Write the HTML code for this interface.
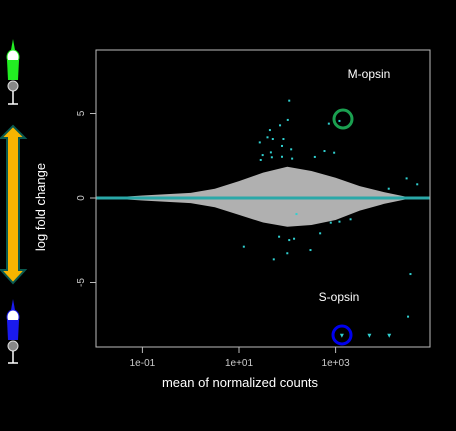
<!DOCTYPE html>
<html><head><meta charset="utf-8"><style>
html,body{margin:0;padding:0;background:#000;}
svg{display:block;font-family:"Liberation Sans",sans-serif;}
</style></head><body>
<svg width="456" height="431" viewBox="0 0 456 431">
<rect width="456" height="431" fill="#000"/>
<g id="icons">
  <g>
    <path d="M13 39 L15 50 L11 50 Z" fill="#22ee22"/>
    <ellipse cx="13" cy="57" rx="6" ry="7" fill="#fff" stroke="#22ee22" stroke-width="1"/>
    <path d="M7 60 L19 60 L18 80 L8 80 Z" fill="#22ee22"/>
    <circle cx="13" cy="86" r="5" fill="#888" stroke="#ddd" stroke-width="1"/>
    <line x1="13" y1="91" x2="13" y2="104" stroke="#fff" stroke-width="1.5"/>
    <line x1="8" y1="104" x2="18" y2="104" stroke="#fff" stroke-width="1.5"/>
  </g>
  <g>
    <path d="M13 126 L25 138 L19 138 L19 270 L25 270 L13 283 L1 270 L7 270 L7 138 L1 138 Z" fill="#f7b500" stroke="#0a5a50" stroke-width="2"/>
  </g>
  <g>
    <path d="M13 299 L15 310 L11 310 Z" fill="#1a1aee"/>
    <ellipse cx="13" cy="317" rx="6" ry="7" fill="#fff" stroke="#1a1aee" stroke-width="1"/>
    <path d="M7 320 L19 320 L18 340 L8 340 Z" fill="#1a1aee"/>
    <circle cx="13" cy="346" r="5" fill="#888" stroke="#ddd" stroke-width="1"/>
    <line x1="13" y1="351" x2="13" y2="363" stroke="#fff" stroke-width="1.5"/>
    <line x1="8" y1="363" x2="18" y2="363" stroke="#fff" stroke-width="1.5"/>
  </g>
</g>
<text x="45" y="207" fill="#fff" font-size="13" text-anchor="middle" transform="rotate(-90 45 207)">log fold change</text>
<text x="240" y="387" fill="#fff" font-size="13" text-anchor="middle">mean of normalized counts</text>
<g id="plot"></g>
<rect x="96" y="50" width="334" height="297" fill="none" stroke="#bbb" stroke-width="1"/>
<circle cx="343" cy="119" r="9" fill="none" stroke="#1aa050" stroke-width="3"/>
<circle cx="342" cy="335" r="9" fill="none" stroke="#0000ee" stroke-width="3"/>
<text x="369" y="78" fill="#fff" font-size="12" text-anchor="middle">M-opsin</text>
<text x="339" y="301" fill="#fff" font-size="12" text-anchor="middle">S-opsin</text>
</svg>
<script>
const xTicks = [-1, 1, 3];
const xTickLabels = ["1e-01", "1e+01", "1e+03"];
const yTicks = [5, 0, -5];
const yTickLabels = ["5", "0", "-5"];
const envLogX = [-1.75, -1, 0, 0.5, 1, 1.5, 2, 2.5, 3, 3.5, 4, 4.5];
const envUpper = [0, 0.15, 0.3, 0.55, 1.0, 1.5, 1.85, 1.6, 1.2, 0.7, 0.35, 0.05];
const envLower = [0, 0.15, 0.3, 0.55, 1.0, 1.45, 1.7, 1.6, 1.3, 0.75, 0.35, 0.05];
const sigLogX = [2.04,2.01,1.85,1.64,1.43,1.70,1.92,1.59,1.89,2.08,1.66,1.49,1.68,1.89,2.10,2.57,2.77,2.97,2.86,3.08,1.45,4.47,4.69,4.10,1.10,1.72,2.00,2.48,2.68,1.83,2.04,2.14,2.90,3.08,3.31,2.19,4.55,4.50];
const sigLFC = [5.76,4.62,4.30,4.02,3.29,3.49,3.49,3.59,3.08,2.88,2.70,2.54,2.41,2.44,2.33,2.43,2.78,2.68,4.40,4.56,2.25,1.16,0.81,0.55,-2.88,-3.63,-3.27,-3.08,-2.09,-2.29,-2.49,-2.41,-1.46,-1.40,-1.26,-0.95,-4.50,-7.02];
const clipLogX = [3.13, 3.70, 4.11];
const clipLFC = [-8.15, -8.15, -8.15];

const NS = "http://www.w3.org/2000/svg";
const X = v => 239 + (v - 1) * 48.3;
const Y = v => 198 - v * 16.9;
const g = document.getElementById('plot');
function mk(tag, attrs) { const e = document.createElementNS(NS, tag); for (const k in attrs) e.setAttribute(k, attrs[k]); g.appendChild(e); return e; }

xTicks.forEach((t, i) => {
  const l = mk('line', {x1: X(t), x2: X(t), y1: 347, y2: 353, stroke: '#bbb'});
  
  
  const tx = mk('text', {x: X(t), y: 366, fill: '#ccc', 'font-size': 10, 'text-anchor': 'middle'});
  tx.textContent = xTickLabels[i];
  
  
});
yTicks.forEach((t, i) => {
  const l = mk('line', {x1: 90, x2: 96, y1: Y(t), y2: Y(t), stroke: '#bbb'});
  
  
  const tx = mk('text', {x: 84, y: Y(t), fill: '#ccc', 'font-size': 10, 'text-anchor': 'middle', transform: `rotate(-90 84 ${Y(t)})`});
  tx.textContent = yTickLabels[i];
  
  
});
let d = '';
envLogX.forEach((v, i) => { d += (i ? 'L' : 'M') + X(v) + ' ' + Y(envUpper[i]) + ' '; });
for (let i = envLogX.length - 1; i >= 0; i--) d += 'L' + X(envLogX[i]) + ' ' + Y(-envLower[i]) + ' ';
const cloud = mk('path', {d: d + 'Z', fill: '#b0b0b0'});


const zl = mk('line', {x1: 96, x2: 430, y1: Y(0), y2: Y(0), stroke: '#2aa8a8', 'stroke-width': 3});


sigLogX.forEach((v, i) => {
  const r = mk('rect', {x: X(v) - 1, y: Y(sigLFC[i]) - 1, width: 2, height: 2, fill: '#30d0d0'});
  
  
});
clipLogX.forEach((v, i) => {
  const x = X(v), y = Y(clipLFC[i]);
  const p = mk('path', {d: `M${x-2} ${y-2} L${x+2} ${y-2} L${x} ${y+2} Z`, fill: '#30d0d0'});
  
  
});
</script>
</body></html>
